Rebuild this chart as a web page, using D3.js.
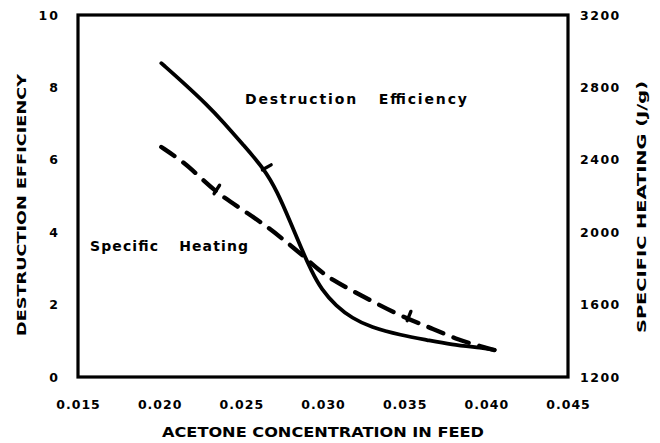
<!DOCTYPE html>
<html><head><meta charset="utf-8">
<script src="https://cdn.jsdelivr.net/npm/d3@7"></script>
<style>
html,body{margin:0;padding:0;background:#fff;}
svg{display:block;}
text{font-family:"DejaVu Sans","Liberation Sans",Arial,sans-serif;font-weight:bold;fill:#000;}
</style></head>
<body>
<script>
// ---- data ----
const xTicks = [0.015, 0.020, 0.025, 0.030, 0.035, 0.040, 0.045];
const xTickLabels = ["0.015", "0.020", "0.025", "0.030", "0.035", "0.040", "0.045"];
const leftTicks = [0, 2, 4, 6, 8, 10];
const rightTicks = [1200, 1600, 2000, 2400, 2800, 3200];

// Destruction efficiency (left axis)
const destX = [0.0201, 0.0214, 0.0229, 0.0239, 0.0251, 0.0264, 0.0272, 0.0280, 0.0287, 0.0293, 0.0299, 0.0308, 0.0318, 0.0329, 0.0348, 0.0364, 0.0378, 0.0398, 0.0405];
const destY = [8.67, 8.15, 7.52, 7.04, 6.42, 5.75, 5.12, 4.28, 3.52, 2.92, 2.42, 1.96, 1.62, 1.38, 1.15, 1.02, 0.90, 0.80, 0.75];

// Specific heating (right axis, J/g)
const heatX = [0.0201, 0.0210, 0.0219, 0.0234, 0.0251, 0.0267, 0.0276, 0.0286, 0.0298, 0.0306, 0.0317, 0.0332, 0.0349, 0.0366, 0.0383, 0.0398, 0.0405];
const heatY = [2471, 2416, 2355, 2222, 2123, 2023, 1957, 1885, 1786, 1736, 1681, 1609, 1532, 1471, 1404, 1366, 1349];

// marked data points
const destMarkX = [0.0264];
const heatMarkX = [0.0234, 0.0352];

// ---- layout ----
const W = 660, H = 443;
const m = {left: 78, right: 568, top: 15, bottom: 377};

const svg = d3.select("body").append("svg").attr("width", W).attr("height", H);

const x = d3.scaleLinear().domain([0.015, 0.045]).range([m.left, m.right]);
const yL = d3.scaleLinear().domain([0, 10]).range([m.bottom, m.top]);
const yR = d3.scaleLinear().domain([1200, 3200]).range([m.bottom, m.top]);

// frame
svg.append("rect").attr("x", m.left).attr("y", m.top)
  .attr("width", m.right - m.left).attr("height", m.bottom - m.top)
  .attr("fill", "none").attr("stroke", "#000").attr("stroke-width", 3.2);

function styleTicks(g) {
  g.select(".domain").remove();
  g.selectAll("text").style("font-size", "12.5px").style("font-weight", "bold")
    .style("font-family", "'DejaVu Sans', sans-serif").attr("fill", "#000");
}

const xAxis = svg.append("g").attr("transform", `translate(0,${m.bottom + 23})`)
  .call(d3.axisBottom(x).tickValues(xTicks).tickFormat((d, i) => xTickLabels[i]).tickSize(0).tickPadding(0));
styleTicks(xAxis);
xAxis.selectAll("text").style("letter-spacing", "1px");

const lAxis = svg.append("g").attr("transform", `translate(${m.left - 18},0)`)
  .call(d3.axisLeft(yL).tickValues(leftTicks).tickFormat(d3.format("d")).tickSize(0).tickPadding(0));
styleTicks(lAxis);
lAxis.selectAll("text").style("letter-spacing", "2px");

const rAxis = svg.append("g").attr("transform", `translate(${m.right + 12},0)`)
  .call(d3.axisRight(yR).tickValues(rightTicks).tickFormat(d3.format("d")).tickSize(0).tickPadding(0));
styleTicks(rAxis);
rAxis.selectAll("text").style("letter-spacing", "1.5px");

// axis titles
svg.append("text").attr("x", (m.left + m.right) / 2).attr("y", 437)
  .attr("text-anchor", "middle").style("font-size", "13.5px")
  .attr("textLength", 322).attr("lengthAdjust", "spacingAndGlyphs")
  .text("ACETONE CONCENTRATION IN FEED");
svg.append("text").attr("transform", `translate(26,205) rotate(-90)`)
  .attr("text-anchor", "middle").style("font-size", "13px")
  .attr("textLength", 262).attr("lengthAdjust", "spacingAndGlyphs")
  .text("DESTRUCTION EFFICIENCY");
svg.append("text").attr("transform", `translate(646,207) rotate(-90)`)
  .attr("text-anchor", "middle").style("font-size", "13px")
  .attr("textLength", 252).attr("lengthAdjust", "spacingAndGlyphs")
  .text("SPECIFIC HEATING (J/g)");

// curve labels
svg.append("text").attr("x", 245).attr("y", 104).style("font-size", "14px")
  .style("word-spacing", "14px")
  .attr("textLength", 222).attr("lengthAdjust", "spacing")
  .text("Destruction Efficiency");
svg.append("text").attr("x", 90).attr("y", 251).style("font-size", "14px")
  .style("word-spacing", "14px")
  .attr("textLength", 158).attr("lengthAdjust", "spacing")
  .text("Specific Heating");

// lines
const destData = destX.map((d, i) => [d, destY[i]]);
const heatData = heatX.map((d, i) => [d, heatY[i]]);

const lineL = d3.line().x(d => x(d[0])).y(d => yL(d[1])).curve(d3.curveBasis);
const lineR = d3.line().x(d => x(d[0])).y(d => yR(d[1])).curve(d3.curveBasis);

svg.append("path").datum(destData).attr("d", lineL).attr("fill", "none")
  .attr("stroke", "#000").attr("stroke-width", 3.8).attr("stroke-linecap", "round");
svg.append("path").datum(heatData).attr("d", lineR).attr("fill", "none")
  .attr("stroke", "#000").attr("stroke-width", 4.4).attr("stroke-linecap", "round")
  .attr("stroke-dasharray", "16,11");

// small perpendicular tick markers at measured points
function interp(xs, ys, v) {
  for (let i = 0; i < xs.length - 1; i++) {
    if (v >= xs[i] && v <= xs[i + 1]) {
      const t = (v - xs[i]) / (xs[i + 1] - xs[i]);
      return ys[i] + t * (ys[i + 1] - ys[i]);
    }
  }
  return ys[ys.length - 1];
}
function marker(xs, ys, sc, v, len) {
  const px = x(v), py = sc(interp(xs, ys, v));
  const px2 = x(v + 0.0005), py2 = sc(interp(xs, ys, v + 0.0005));
  let dx = px2 - px, dy = py2 - py;
  const n = Math.hypot(dx, dy); dx /= n; dy /= n;
  let nx = dy, ny = -dx;
  if (ny > 0) { nx = -nx; ny = -ny; }
  svg.append("line").attr("x1", px - nx * 2).attr("y1", py - ny * 2)
    .attr("x2", px + nx * len).attr("y2", py + ny * len)
    .attr("stroke", "#000").attr("stroke-width", 3.4).attr("stroke-linecap", "round");
}
destMarkX.forEach(v => marker(destX, destY, yL, v, 8));
heatMarkX.forEach(v => marker(heatX, heatY, yR, v, 8));
</script>
</body></html>
